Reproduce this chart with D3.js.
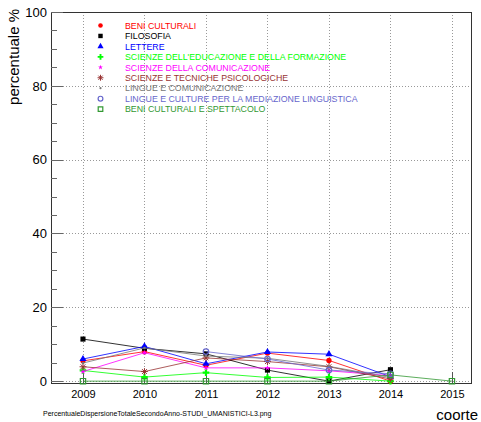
<!DOCTYPE html>
<html><head><meta charset="utf-8">
<script src="https://cdn.jsdelivr.net/npm/d3@7"></script>
<style>html,body{margin:0;padding:0;background:#fff}svg{display:block}text{font-family:"Liberation Sans",Arial,sans-serif}</style>
</head><body><svg id="c" width="481" height="422"></svg>
<script>
const years = [2009, 2010, 2011, 2012, 2013, 2014, 2015];
const yTicks = [0, 20, 40, 60, 80, 100];
const seriesNames = ["BENI CULTURALI","FILOSOFIA","LETTERE","SCIENZE DELL'EDUCAZIONE E DELLA FORMAZIONE","SCIENZE DELLA COMUNICAZIONE","SCIENZE E TECNICHE PSICOLOGICHE","LINGUE E COMUNICAZIONE","LINGUE E CULTURE PER LA MEDIAZIONE LINGUISTICA","BENI CULTURALI E SPETTACOLO"];
const seriesColors = ["#ff0000","#000000","#0000ff","#00ff00","#ff00ff","#993333","#777777","#6666cc","#339933"];
const seriesMarkers = ["circle","square","triangle","cross","star","asterisk","dot","ocircle","osquare"];
const beniCulturali = [5.5, 8.0, 4.3, 7.6, 5.6, 0.0, null];
const filosofia = [11.4, 8.9, 7.4, 3.0, 0.0, 3.1, null];
const lettere = [6.0, 9.4, 4.7, 7.9, 7.3, 1.2, null];
const scienzeEducazione = [2.9, 1.1, 2.3, 1.0, 1.1, 0.0, null];
const scienzeComunicazione = [2.6, 7.7, 3.6, 3.6, 2.8, 1.5, null];
const scienzePsicologiche = [3.9, 2.6, 6.3, 5.3, 3.9, 0.6, null];
const lingueComunicazione = [4.9, 9.0, 6.8, 6.2, 4.0, 1.0, null];
const lingueMediazione = [null, null, 8.0, 6.0, 3.0, 2.0, null];
const beniSpettacolo = [0.0, 0.0, 0.0, 0.0, 0.0, 1.7, 0.0];
const seriesValues = [beniCulturali, filosofia, lettere, scienzeEducazione, scienzeComunicazione, scienzePsicologiche, lingueComunicazione, lingueMediazione, beniSpettacolo];

const svg = d3.select("#c");
const L = 51, R = 471, T = 12, B = 383;
const x = d3.scaleLinear().domain([2008.48, 2015.31]).range([L, R]);
const y = d3.scaleLinear().domain([-0.5, 100]).range([B, T]);

// grid
const grid = svg.append("g").attr("stroke", "#999").attr("stroke-width", 1).attr("stroke-dasharray", "1,2");
grid.selectAll("line.v").data(years).join("line").attr("x1", d => Math.round(x(d)) + 0.5).attr("x2", d => Math.round(x(d)) + 0.5).attr("y1", T).attr("y2", B);
grid.selectAll("line.h").data(yTicks).join("line").attr("x1", L).attr("x2", R).attr("y1", d => Math.round(y(d)) + 0.5).attr("y2", d => Math.round(y(d)) + 0.5);

// frame
svg.append("rect").attr("x", L + 0.5).attr("y", T + 0.5).attr("width", R - L).attr("height", B - T).attr("fill", "none").attr("stroke", "#333").attr("stroke-width", 1);

// y axis
const yAxis = d3.axisLeft(y).tickValues(yTicks).tickSize(0).tickPadding(4);
const gy = svg.append("g").attr("transform", `translate(${L},0)`).call(yAxis);
gy.select(".domain").remove();
gy.selectAll("text").attr("font-size", 13).attr("fill", "#000").style("font-family", "Liberation Sans, Arial, sans-serif");
const yMinor = d3.range(0, 101, 5);
svg.append("g").selectAll("line").data(yMinor).join("line")
  .attr("x1", L).attr("x2", d => L + (d % 20 === 0 ? 12 : 6))
  .attr("y1", d => Math.round(y(d)) + 0.5).attr("y2", d => Math.round(y(d)) + 0.5)
  .attr("stroke", "#666");

// x axis
const xAxis = d3.axisBottom(x).tickValues(years).tickFormat(d3.format("d")).tickSize(0).tickPadding(7);
const gx = svg.append("g").attr("transform", `translate(0,${B})`).call(xAxis);
gx.select(".domain").remove();
gx.selectAll("text").attr("font-size", 11).attr("fill", "#000").style("font-family", "Liberation Sans, Arial, sans-serif");
svg.append("g").selectAll("line").data(years).join("line")
  .attr("x1", d => Math.round(x(d)) + 0.5).attr("x2", d => Math.round(x(d)) + 0.5)
  .attr("y1", B).attr("y2", B - 11).attr("stroke", "#555");

// marker drawing
const asterisk = { draw(ctx, size) { const r = Math.sqrt(size) / 1.6; for (let i = 0; i < 4; i++) { const a = i * Math.PI / 4; ctx.moveTo(-r * Math.cos(a), -r * Math.sin(a)); ctx.lineTo(r * Math.cos(a), r * Math.sin(a)); } } };
function drawMarker(g, type, color, cx, cy, s) {
  const sc = s || 1;
  let sym, fill = color, stroke = "none", sw = 1, size;
  switch (type) {
    case "circle": sym = d3.symbolCircle; size = 22 * sc; break;
    case "square": sym = d3.symbolSquare; size = 26 * sc; break;
    case "triangle": sym = d3.symbolTriangle; size = 22 * sc; break;
    case "cross": sym = d3.symbolCross; size = 24 * sc; break;
    case "star": sym = d3.symbolStar; size = 10 * sc; break;
    case "asterisk": sym = asterisk; size = 30 * sc; fill = "none"; stroke = color; sw = 1; break;
    case "dot": sym = d3.symbolCircle; size = 5 * sc; break;
    case "ocircle": sym = d3.symbolCircle; size = 24 * sc; fill = "none"; stroke = color; sw = 1.2; break;
    case "osquare": sym = d3.symbolSquare; size = 28 * sc; fill = "none"; stroke = color; sw = 1.2; break;
  }
  g.append("path").attr("d", d3.symbol().type(sym).size(size)()).attr("transform", `translate(${cx},${cy})`)
    .attr("fill", fill).attr("stroke", stroke).attr("stroke-width", sw);
}

// series
const line = d3.line().defined(d => d.v !== null).x(d => x(d.year)).y(d => y(d.v));
seriesValues.forEach((vals, i) => {
  const pts = years.map((yr, j) => ({ year: yr, v: vals[j] }));
  const g = svg.append("g");
  g.append("path").attr("d", line(pts)).attr("fill", "none").attr("stroke", seriesColors[i]).attr("stroke-width", 1).attr("stroke-opacity", 0.8);
  pts.filter(p => p.v !== null).forEach(p => drawMarker(g, seriesMarkers[i], seriesColors[i], x(p.year), y(p.v), 1));
});

// legend
const lg = svg.append("g");
seriesNames.forEach((name, i) => {
  const cy = 25.5 + i * 10.45;
  drawMarker(lg, seriesMarkers[i], seriesColors[i], 100.5, cy, 0.75);
  lg.append("text").attr("x", 125).attr("y", cy + 3.2).attr("font-size", 8.8).attr("fill", seriesColors[i]).text(name);
});

// titles
svg.append("text").attr("transform", "translate(19,9) rotate(-90)").attr("text-anchor", "end").attr("font-size", 15).attr("fill", "#000").text("percentuale %");
svg.append("text").attr("x", 478).attr("y", 420).attr("text-anchor", "end").attr("font-size", 15).attr("fill", "#000").text("coorte");
svg.append("text").attr("x", 43).attr("y", 416).attr("font-size", 7).attr("fill", "#000").text("PercentualeDispersioneTotaleSecondoAnno-STUDI_UMANISTICI-L3.png");
</script></body></html>
